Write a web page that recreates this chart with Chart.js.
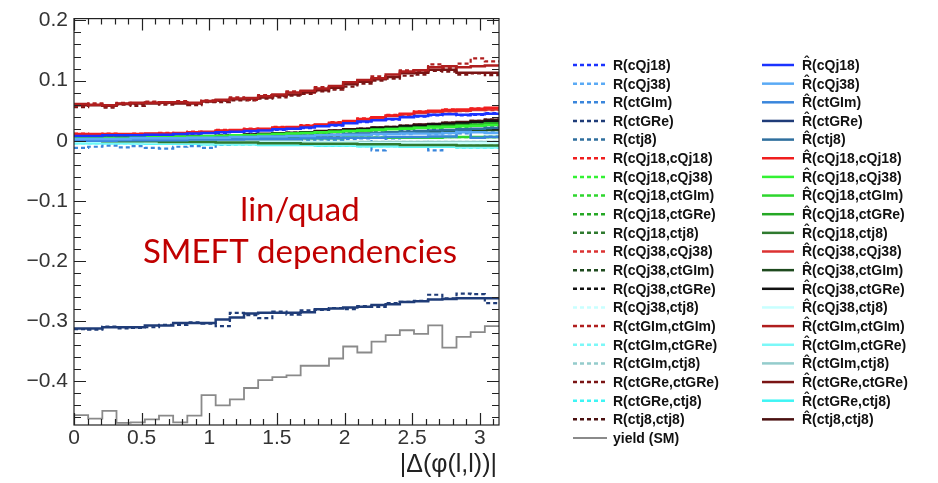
<!DOCTYPE html>
<html>
<head>
<meta charset="utf-8">
<script src="https://cdn.jsdelivr.net/npm/chart.js@4.4.0/dist/chart.umd.min.js"></script>
<style>
  html, body { margin: 0; padding: 0; background: #fff; }
  #wrap { width: 938px; height: 483px; }
</style>
</head>
<body>
<div id="wrap"><canvas id="smeftChart" width="938" height="483"></canvas></div>
<script>
// 30 equal bins in |Δφ(l,l)| from 0 to π
const nBins = 30;
const binEdges = Array.from({ length: nBins + 1 }, (_, i) => i * Math.PI / nBins);

const xTickValues = [0, 0.5, 1, 1.5, 2, 2.5, 3];
const yTickValues = [0.2, 0.1, 0, -0.1, -0.2, -0.3, -0.4];

// SM yield shape (arbitrary normalisation, shown in the lower part of the frame)
const yieldSM = [-0.456, -0.462, -0.449, -0.469, -0.468, -0.463, -0.457, -0.468, -0.457, -0.423, -0.440, -0.430, -0.411, -0.398, -0.393, -0.390, -0.374, -0.374, -0.362, -0.342, -0.352, -0.334, -0.323, -0.315, -0.321, -0.307, -0.344, -0.326, -0.318, -0.308];

// linear terms: R (from samples) and R-hat (parametrisation)
const r_cQj18    = [0.007, 0.009, 0.008, 0.010, 0.008, 0.011, 0.009, 0.012, 0.011, 0.014, 0.013, 0.016, 0.015, 0.018, 0.018, 0.021, 0.021, 0.025, 0.025, 0.030, 0.031, 0.035, 0.035, 0.040, 0.040, 0.042, 0.045, 0.042, 0.043, 0.046];
const rhat_cQj18 = [0.008, 0.008, 0.009, 0.009, 0.009, 0.010, 0.010, 0.011, 0.012, 0.013, 0.014, 0.015, 0.016, 0.017, 0.019, 0.020, 0.022, 0.024, 0.026, 0.029, 0.032, 0.034, 0.036, 0.039, 0.041, 0.043, 0.044, 0.043, 0.044, 0.045];
const r_cQj38    = [0.002, 0.004, 0.003, 0.002, 0.005, 0.003, 0.005, 0.004, 0.006, 0.004, 0.006, 0.005, 0.007, 0.006, 0.008, 0.007, 0.009, 0.008, 0.010, 0.009, 0.011, 0.010, 0.012, 0.011, 0.013, 0.011, 0.012, 0.018, 0.018, 0.014];
const rhat_cQj38 = [0.003, 0.003, 0.003, 0.003, 0.004, 0.004, 0.004, 0.004, 0.005, 0.005, 0.005, 0.006, 0.006, 0.007, 0.007, 0.008, 0.008, 0.009, 0.009, 0.010, 0.010, 0.011, 0.011, 0.012, 0.012, 0.012, 0.013, 0.014, 0.014, 0.013];
const r_ctGIm    = [-0.012, -0.010, -0.008, -0.011, -0.009, -0.012, -0.013, -0.010, -0.009, -0.012, -0.006, -0.004, -0.003, -0.002, -0.001, 0.000, 0.001, 0.002, 0.001, 0.003, 0.004, -0.016, 0.004, 0.006, 0.005, -0.016, 0.006, 0.012, 0.006, 0.007];
const rhat_ctGIm = [0.000, 0.000, 0.000, 0.001, 0.001, 0.001, 0.001, 0.001, 0.002, 0.002, 0.002, 0.002, 0.003, 0.003, 0.003, 0.003, 0.004, 0.004, 0.004, 0.005, 0.005, 0.005, 0.006, 0.006, 0.006, 0.007, 0.007, 0.015, 0.005, 0.006];
const r_ctGRe    = [-0.313, -0.314, -0.309, -0.312, -0.311, -0.310, -0.306, -0.306, -0.302, -0.304, -0.308, -0.286, -0.290, -0.295, -0.284, -0.289, -0.282, -0.281, -0.278, -0.280, -0.275, -0.276, -0.270, -0.268, -0.266, -0.256, -0.262, -0.254, -0.255, -0.270];
const rhat_ctGRe = [-0.312, -0.312, -0.310, -0.310, -0.310, -0.307, -0.307, -0.303, -0.303, -0.303, -0.297, -0.294, -0.287, -0.286, -0.286, -0.286, -0.285, -0.280, -0.279, -0.277, -0.276, -0.273, -0.272, -0.268, -0.267, -0.264, -0.263, -0.262, -0.262, -0.262];
const rhat_ctj8  = [0.002, 0.002, 0.002, 0.003, 0.003, 0.003, 0.003, 0.004, 0.004, 0.004, 0.005, 0.005, 0.006, 0.006, 0.007, 0.007, 0.008, 0.009, 0.010, 0.011, 0.012, 0.013, 0.014, 0.015, 0.016, 0.017, 0.018, 0.019, 0.020, 0.021];
const r_ctj8     = [0.001, 0.003, 0.002, 0.004, 0.002, 0.004, 0.003, 0.005, 0.003, 0.005, 0.004, 0.006, 0.005, 0.007, 0.006, 0.008, 0.007, 0.010, 0.009, 0.012, 0.011, 0.014, 0.013, 0.016, 0.015, 0.018, 0.017, 0.020, 0.019, 0.022];

// quadratic and interference terms
const r_cQj18_cQj18    = [0.012, 0.010, 0.012, 0.010, 0.012, 0.011, 0.013, 0.012, 0.015, 0.014, 0.018, 0.017, 0.020, 0.019, 0.023, 0.022, 0.026, 0.026, 0.031, 0.032, 0.037, 0.038, 0.043, 0.044, 0.049, 0.049, 0.052, 0.051, 0.054, 0.054];
const rhat_cQj18_cQj18 = [0.011, 0.011, 0.011, 0.011, 0.011, 0.012, 0.012, 0.013, 0.014, 0.015, 0.017, 0.018, 0.019, 0.020, 0.022, 0.023, 0.025, 0.027, 0.030, 0.033, 0.036, 0.039, 0.042, 0.045, 0.048, 0.050, 0.051, 0.052, 0.053, 0.055];
const r_cQj18_cQj38    = [0.006, 0.004, 0.006, 0.005, 0.007, 0.005, 0.007, 0.006, 0.008, 0.007, 0.009, 0.008, 0.010, 0.009, 0.012, 0.011, 0.014, 0.013, 0.016, 0.015, 0.018, 0.017, 0.020, 0.019, 0.022, 0.021, 0.024, 0.023, 0.026, 0.025];
const rhat_cQj18_cQj38 = [0.005, 0.005, 0.005, 0.005, 0.006, 0.006, 0.006, 0.007, 0.007, 0.008, 0.008, 0.009, 0.009, 0.010, 0.011, 0.012, 0.013, 0.014, 0.015, 0.016, 0.017, 0.018, 0.019, 0.020, 0.021, 0.022, 0.023, 0.024, 0.025, 0.026];
const rhat_cQj18_ctGIm = [0.003, 0.003, 0.003, 0.003, 0.003, 0.003, 0.003, 0.003, 0.003, 0.003, 0.004, 0.004, 0.004, 0.004, 0.004, 0.004, 0.004, 0.004, 0.004, 0.005, 0.005, 0.005, 0.005, 0.005, 0.005, 0.005, 0.006, 0.006, 0.006, 0.006];
const rhat_cQj18_ctGRe = [0.004, 0.004, 0.004, 0.004, 0.005, 0.005, 0.005, 0.006, 0.006, 0.007, 0.007, 0.008, 0.009, 0.010, 0.011, 0.012, 0.013, 0.014, 0.015, 0.016, 0.017, 0.019, 0.020, 0.021, 0.022, 0.024, 0.025, 0.026, 0.027, 0.029];
const rhat_cQj18_ctj8  = [0.000, 0.000, -0.001, -0.001, -0.001, -0.001, -0.002, -0.002, -0.002, -0.002, -0.003, -0.003, -0.003, -0.004, -0.004, -0.004, -0.005, -0.005, -0.005, -0.005, -0.006, -0.006, -0.006, -0.007, -0.007, -0.007, -0.007, -0.008, -0.008, -0.008];
const r_cQj38_cQj38    = [0.011, 0.009, 0.011, 0.009, 0.011, 0.010, 0.012, 0.011, 0.014, 0.013, 0.017, 0.016, 0.019, 0.018, 0.022, 0.021, 0.025, 0.025, 0.030, 0.031, 0.036, 0.037, 0.042, 0.043, 0.047, 0.047, 0.050, 0.049, 0.052, 0.051];
const rhat_cQj38_cQj38 = [0.010, 0.010, 0.010, 0.010, 0.010, 0.011, 0.011, 0.012, 0.013, 0.014, 0.016, 0.017, 0.018, 0.019, 0.021, 0.022, 0.024, 0.026, 0.029, 0.032, 0.035, 0.038, 0.041, 0.044, 0.046, 0.048, 0.049, 0.050, 0.051, 0.052];
const rhat_cQj38_ctGIm = [0.002, 0.002, 0.002, 0.003, 0.003, 0.003, 0.003, 0.004, 0.004, 0.004, 0.005, 0.005, 0.006, 0.006, 0.007, 0.007, 0.008, 0.009, 0.009, 0.010, 0.011, 0.012, 0.013, 0.014, 0.014, 0.015, 0.016, 0.017, 0.017, 0.018];
const rhat_cQj38_ctGRe = [0.005, 0.005, 0.005, 0.005, 0.005, 0.006, 0.006, 0.006, 0.007, 0.007, 0.008, 0.009, 0.010, 0.011, 0.012, 0.013, 0.014, 0.015, 0.016, 0.018, 0.019, 0.021, 0.022, 0.024, 0.025, 0.027, 0.028, 0.029, 0.031, 0.033];
const rhat_cQj38_ctj8  = [-0.001, -0.001, -0.001, -0.001, -0.001, -0.002, -0.002, -0.002, -0.002, -0.002, -0.002, -0.002, -0.003, -0.003, -0.003, -0.003, -0.003, -0.003, -0.003, -0.003, -0.004, -0.004, -0.004, -0.004, -0.004, -0.004, -0.004, -0.004, -0.004, -0.004];
const r_ctGIm_ctGIm    = [0.058, 0.062, 0.057, 0.063, 0.061, 0.065, 0.062, 0.066, 0.061, 0.067, 0.066, 0.072, 0.068, 0.076, 0.074, 0.082, 0.080, 0.089, 0.087, 0.095, 0.099, 0.107, 0.106, 0.117, 0.114, 0.127, 0.121, 0.128, 0.137, 0.132];
const rhat_ctGIm_ctGIm = [0.061, 0.060, 0.059, 0.062, 0.063, 0.063, 0.064, 0.064, 0.063, 0.066, 0.068, 0.070, 0.071, 0.074, 0.077, 0.080, 0.083, 0.087, 0.091, 0.097, 0.101, 0.104, 0.110, 0.115, 0.117, 0.122, 0.124, 0.122, 0.124, 0.125];
const rhat_ctGIm_ctGRe = [-0.003, -0.003, -0.003, -0.003, -0.004, -0.004, -0.004, -0.004, -0.004, -0.005, -0.005, -0.005, -0.005, -0.006, -0.006, -0.006, -0.006, -0.007, -0.007, -0.007, -0.008, -0.008, -0.008, -0.009, -0.009, -0.009, -0.009, -0.010, -0.010, -0.010];
const rhat_ctGIm_ctj8  = [0.000, 0.000, 0.000, 0.000, 0.000, 0.000, -0.001, -0.001, -0.001, -0.001, -0.001, -0.001, -0.001, -0.001, -0.001, -0.001, -0.002, -0.002, -0.002, -0.002, -0.002, -0.002, -0.002, -0.002, -0.002, -0.002, -0.002, -0.002, -0.002, -0.002];
const r_ctGRe_ctGRe    = [0.056, 0.060, 0.055, 0.060, 0.058, 0.064, 0.060, 0.063, 0.059, 0.064, 0.064, 0.067, 0.067, 0.070, 0.072, 0.075, 0.078, 0.082, 0.085, 0.090, 0.095, 0.100, 0.103, 0.108, 0.110, 0.116, 0.115, 0.110, 0.112, 0.109];
const rhat_ctGRe_ctGRe = [0.059, 0.059, 0.058, 0.061, 0.062, 0.062, 0.063, 0.062, 0.062, 0.065, 0.067, 0.069, 0.070, 0.072, 0.075, 0.077, 0.081, 0.084, 0.088, 0.094, 0.098, 0.102, 0.106, 0.112, 0.113, 0.118, 0.118, 0.113, 0.113, 0.113];
const rhat_ctGRe_ctj8  = [-0.004, -0.004, -0.004, -0.004, -0.004, -0.005, -0.005, -0.005, -0.005, -0.006, -0.006, -0.006, -0.006, -0.007, -0.007, -0.007, -0.007, -0.008, -0.008, -0.008, -0.009, -0.009, -0.009, -0.010, -0.010, -0.010, -0.010, -0.011, -0.011, -0.011];
const rhat_ctj8_ctj8   = [0.005, 0.005, 0.005, 0.005, 0.005, 0.006, 0.006, 0.006, 0.007, 0.007, 0.008, 0.009, 0.010, 0.011, 0.012, 0.013, 0.014, 0.016, 0.017, 0.019, 0.020, 0.022, 0.023, 0.025, 0.027, 0.028, 0.030, 0.031, 0.033, 0.035];

// one row per Wilson coefficient combination: name, colour, sample ratio, parametrised ratio
// (where the two agree to within the line width the same values are used for both)
const series = [
  ['cQj18',       '#1a33ff', r_cQj18,          rhat_cQj18],
  ['cQj38',       '#5aaaf5', r_cQj38,          rhat_cQj38],
  ['ctGIm',       '#3a86dc', r_ctGIm,          rhat_ctGIm],
  ['ctGRe',       '#1f3c78', r_ctGRe,          rhat_ctGRe],
  ['ctj8',        '#2f6f9e', r_ctj8,           rhat_ctj8],
  ['cQj18,cQj18', '#f01e1e', r_cQj18_cQj18,    rhat_cQj18_cQj18],
  ['cQj18,cQj38', '#33f233', r_cQj18_cQj38,    rhat_cQj18_cQj38],
  ['cQj18,ctGIm', '#2ed62e', rhat_cQj18_ctGIm, rhat_cQj18_ctGIm],
  ['cQj18,ctGRe', '#25a825', rhat_cQj18_ctGRe, rhat_cQj18_ctGRe],
  ['cQj18,ctj8',  '#2f7a2f', rhat_cQj18_ctj8,  rhat_cQj18_ctj8],
  ['cQj38,cQj38', '#dc3232', r_cQj38_cQj38,    rhat_cQj38_cQj38],
  ['cQj38,ctGIm', '#1e4a1e', rhat_cQj38_ctGIm, rhat_cQj38_ctGIm],
  ['cQj38,ctGRe', '#111111', rhat_cQj38_ctGRe, rhat_cQj38_ctGRe],
  ['cQj38,ctj8',  '#c8ffff', rhat_cQj38_ctj8,  rhat_cQj38_ctj8],
  ['ctGIm,ctGIm', '#b01e1e', r_ctGIm_ctGIm,    rhat_ctGIm_ctGIm],
  ['ctGIm,ctGRe', '#7cf8f8', rhat_ctGIm_ctGRe, rhat_ctGIm_ctGRe],
  ['ctGIm,ctj8',  '#94cccc', rhat_ctGIm_ctj8,  rhat_ctGIm_ctj8],
  ['ctGRe,ctGRe', '#7a1414', r_ctGRe_ctGRe,    rhat_ctGRe_ctGRe],
  ['ctGRe,ctj8',  '#3ef5f5', rhat_ctGRe_ctj8,  rhat_ctGRe_ctj8],
  ['ctj8,ctj8',   '#4a1010', rhat_ctj8_ctj8,   rhat_ctj8_ctj8]
];

const yieldColor = '#8a8a8a';
const dotDash = [4, 3];
const axisFont = '"Liberation Sans", Arial, sans-serif';

// turn bin contents into points on the bin edges (last bin repeated to close the step)
function histPoints(vals) {
  const pts = vals.map((v, i) => ({ x: binEdges[i], y: v }));
  pts.push({ x: binEdges[nBins], y: vals[nBins - 1] });
  return pts;
}

function stepDataset(label, color, vals, dashed, width) {
  return {
    label: label,
    data: histPoints(vals),
    borderColor: color,
    borderWidth: width,
    borderDash: dashed ? dotDash : [],
    stepped: 'before',
    pointRadius: 0,
    fill: false
  };
}

// first dataset is painted last in Chart.js, so fitted curves go first
const datasets = [];
series.forEach(s => datasets.push(stepDataset('R\u0302(' + s[0] + ')', s[1], s[3], false, 2.5)));
series.forEach(s => datasets.push(stepDataset('R(' + s[0] + ')', s[1], s[2], true, 2.2)));
datasets.push(stepDataset('yield (SM)', yieldColor, yieldSM, false, 1.8));

// ROOT-like frame with inward major/minor ticks on all four sides
const framePlugin = {
  id: 'frame',
  afterDatasetsDraw(chart) {
    const { ctx, chartArea: a, scales: { x, y } } = chart;
    ctx.save();
    ctx.strokeStyle = '#222';
    ctx.lineWidth = 1.2;
    ctx.strokeRect(a.left, a.top, a.right - a.left, a.bottom - a.top);
    ctx.beginPath();
    for (let k = 0; k * 0.1 <= x.max + 1e-9; k++) {
      const v = k * 0.1;
      const px = Math.round(x.getPixelForValue(v)) + 0.5;
      const len = (k % 5 === 0) ? 12 : 6;
      ctx.moveTo(px, a.bottom); ctx.lineTo(px, a.bottom - len);
      ctx.moveTo(px, a.top); ctx.lineTo(px, a.top + len);
    }
    for (let k = Math.ceil(y.min / 0.02 - 1e-9); k * 0.02 <= y.max + 1e-9; k++) {
      const v = k * 0.02;
      const py = Math.round(y.getPixelForValue(v)) + 0.5;
      const len = (k % 5 === 0) ? 12 : 7;
      ctx.moveTo(a.left, py); ctx.lineTo(a.left + len, py);
      ctx.moveTo(a.right, py); ctx.lineTo(a.right - len, py);
    }
    ctx.stroke();

    // x axis title, right aligned under the frame
    ctx.fillStyle = '#222';
    ctx.font = '25px ' + axisFont;
    ctx.textAlign = 'right';
    ctx.textBaseline = 'alphabetic';
    ctx.fillText('|\u0394(\u03c6(l,l))|', a.right - 2, 472);

    // annotation inside the frame
    ctx.fillStyle = '#c00000';
    ctx.font = '33px Lato, "Open Sans", sans-serif';
    ctx.textAlign = 'center';
    const cx = a.left + 226;
    ctx.fillText('lin/quad', cx, 221);
    ctx.fillText('SMEFT dependencies', cx, 263);
    ctx.restore();
  }
};

// two-column legend to the right of the frame
const legendPlugin = {
  id: 'twoColLegend',
  afterDraw(chart) {
    const { ctx } = chart;
    const rowH = 18.65, top = 65;
    ctx.save();
    ctx.font = 'bold 14px ' + axisFont;
    ctx.textBaseline = 'middle';
    ctx.textAlign = 'left';
    series.forEach((s, i) => {
      const yy = top + i * rowH;
      ctx.strokeStyle = s[1];
      ctx.lineWidth = 2.5;
      ctx.setLineDash(dotDash);
      ctx.beginPath(); ctx.moveTo(573, yy); ctx.lineTo(607, yy); ctx.stroke();
      ctx.setLineDash([]);
      ctx.beginPath(); ctx.moveTo(762, yy); ctx.lineTo(794, yy); ctx.stroke();
      ctx.fillStyle = '#111';
      ctx.fillText('R(' + s[0] + ')', 613, yy + 1);
      ctx.fillText('R\u0302(' + s[0] + ')', 802, yy + 1);
    });
    const yy = top + series.length * rowH;
    ctx.strokeStyle = yieldColor;
    ctx.lineWidth = 1.8;
    ctx.beginPath(); ctx.moveTo(573, yy); ctx.lineTo(607, yy); ctx.stroke();
    ctx.fillStyle = '#111';
    ctx.fillText('yield (SM)', 613, yy + 1);
    ctx.restore();
  }
};

new Chart(document.getElementById('smeftChart'), {
  type: 'line',
  data: { datasets: datasets },
  options: {
    responsive: false,
    animation: false,
    events: [],
    layout: { padding: { left: 0, right: 439, top: 13, bottom: 0 } },
    plugins: { legend: { display: false }, tooltip: { enabled: false } },
    elements: { line: { tension: 0 } },
    scales: {
      x: {
        type: 'linear',
        min: 0,
        max: Math.PI,
        grid: { display: false, drawTicks: false },
        border: { display: false },
        afterBuildTicks: s => { s.ticks = xTickValues.map(v => ({ value: v })); },
        afterFit: s => { s.height = 58; },
        ticks: {
          padding: 1,
          autoSkip: false,
          maxRotation: 0,
          color: '#333',
          font: { family: axisFont, size: 21 },
          callback: v => String(v)
        }
      },
      y: {
        type: 'linear',
        min: -0.4725,
        max: 0.203,
        grid: { display: false, drawTicks: false },
        border: { display: false },
        afterBuildTicks: s => { s.ticks = yTickValues.map(v => ({ value: v })); },
        afterFit: s => { s.width = 74; },
        ticks: {
          padding: 6,
          autoSkip: false,
          color: '#333',
          font: { family: axisFont, size: 21 },
          callback: v => v === 0 ? '0' : (v < 0 ? '\u2212' + Math.abs(v).toFixed(1) : v.toFixed(1))
        }
      }
    }
  },
  plugins: [framePlugin, legendPlugin]
});
</script>
</body>
</html>
